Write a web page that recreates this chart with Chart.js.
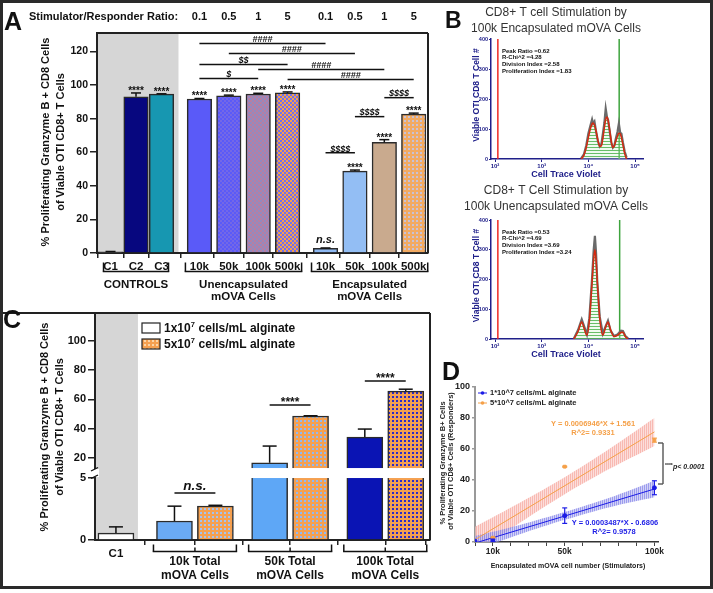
<!DOCTYPE html>
<html>
<head>
<meta charset="utf-8">
<title>OTI CD8+ T cell stimulation by mOVA cells</title>
<script src="https://cdn.jsdelivr.net/npm/chart.js@4.4.1/dist/chart.umd.min.js"></script>
<style>
  html, body { margin: 0; padding: 0; background: #fff; }
  #fig { position: relative; width: 713px; height: 593px; overflow: hidden; background: #fff; }
  #fig canvas { position: absolute; }
  #frame { position: absolute; left: 0; top: 0; width: 707px; height: 583px; border: 3px solid #2a2a2a; pointer-events: none; }
</style>
</head>
<body>
<div id="fig">
  <canvas id="chartA" width="430" height="310" style="left:0;top:0"></canvas>
  <canvas id="chartC" width="432" height="293" style="left:0;top:300px"></canvas>
  <canvas id="chartB1" width="283" height="185" style="left:430px;top:0"></canvas>
  <canvas id="chartB2" width="283" height="183" style="left:430px;top:182px"></canvas>
  <canvas id="chartD" width="283" height="253" style="left:430px;top:340px"></canvas>
  <div id="frame"></div>
</div>
<script>
const FONT = '"Liberation Sans", Arial, Helvetica, sans-serif';
Chart.defaults.font.family = FONT;
Chart.defaults.color = '#111';
Chart.defaults.animation = false;
Chart.defaults.responsive = false;
Chart.defaults.plugins.legend.display = false;
Chart.defaults.plugins.tooltip.enabled = false;

// ---------- Panel A ----------
const A_LABELS = ["C1", "C2", "C3", "10k", "50k", "100k", "500k", "10k", "50k", "100k", "500k"];
const A_GROUPS = [3, 4, 4];
const A_GROUP_NAMES = [["CONTROLS"], ["Unencapsulated", "mOVA Cells"], ["Encapsulated", "mOVA Cells"]];
const A_RATIOS = ["", "", "", "0.1", "0.5", "1", "5", "0.1", "0.5", "1", "5"];
const A_VALUES = [0.7, 93.0, 94.6, 91.7, 93.6, 94.7, 95.4, 2.8, 48.8, 65.9, 82.7];
const A_ERRORS = [0.2, 2.3, 0.2, 0.3, 0.4, 0.4, 0.5, 0.2, 0.6, 1.6, 0.6];
const A_MARKS = ["", "****", "****", "****", "****", "****", "****", "n.s.", "****", "****", "****"];
// [from bar, to bar, label, height of the line in % units]
const A_COMPARE = [
  [3, 7, "####", 124.8],
  [4, 8, "####", 118.8],
  [3, 6, "$$", 112.2],
  [5, 9, "####", 109.3],
  [3, 5, "$", 103.9],
  [6, 10, "####", 103.3],
  [7, 8, "$$$$", 59.7],
  [8, 9, "$$$$", 81.2],
  [9, 10, "$$$$", 92.5]
];
const A_YTICKS = [0, 20, 40, 60, 80, 100, 120];

// ---------- Panel B (flow histograms, Cell Trace Violet) ----------
const B_XTICKS = [100, 1000, 10000, 100000];
const B_XLABELS = ["10²", "10³", "10⁴", "10⁵"];
const B_YTICKS = [0, 100, 200, 300, 400];
const B_TOP_X = [7000, 8000, 9000, 10000, 11000, 12000, 12600, 13500, 14500, 16000, 17500, 19000, 20500, 22000,
  23500, 25000, 26500, 28500, 31000, 33500, 36000, 39000, 42000, 45000, 48000, 51000, 55000, 60000, 66000];
const B_TOP_RAW = [2, 15, 45, 85, 110, 132, 118, 125, 95, 60, 42, 50, 85, 120,
  168, 140, 130, 95, 55, 38, 45, 70, 90, 118, 88, 85, 55, 25, 5];
const B_TOP_FIT = [0, 12, 38, 72, 100, 117, 120, 113, 95, 62, 42, 44, 70, 105,
  132, 140, 128, 98, 58, 38, 44, 62, 76, 86, 84, 72, 48, 18, 0];
const B_TOP_STATS = ["Peak Ratio =0.62", "R-Chi^2 =4.28", "Division Index =2.58", "Proliferation Index =1.83"];
const B_BOT_X = [4900, 6000, 7200, 8300, 9300, 10500, 12000, 13000, 13800, 14600, 15500, 17500, 20400, 23000,
  26300, 30000, 35500, 42000, 50000, 55000, 62000, 71000];
const B_BOT_RAW = [2, 30, 66, 38, 15, 70, 205, 300, 347, 290, 195, 75, 18, 40, 62, 28, 10, 15, 28, 27, 10, 2];
const B_BOT_FIT = [0, 25, 57, 30, 13, 60, 190, 270, 300, 265, 195, 70, 13, 35, 57, 30, 8, 12, 22, 23, 8, 0];
const B_BOT_STATS = ["Peak Ratio =0.53", "R-Chi^2 =4.69", "Division Index =3.69", "Proliferation Index =3.24"];
const B_RED_GATE = 115;
const B_GREEN_GATE = [45700, 46800];

// ---------- Panel C ----------
const C_GROUP_NAMES = [["10k Total", "mOVA Cells"], ["50k Total", "mOVA Cells"], ["100k Total", "mOVA Cells"]];
const C_SERIES = ["1x10", "5x10"];
const C_LOW = [0.56, 1.53, 16.8, 34.3];        // 1x10^7 cells/mL: C1, 10k, 50k, 100k
const C_LOW_ERR = [0.5, 1.2, 11.4, 5.5];
const C_HIGH = [null, 2.74, 48.7, 65.7];       // 5x10^7 cells/mL
const C_HIGH_ERR = [null, 0.06, 0.2, 1.3];
const C_MARKS = ["n.s.", "****", "****"];
const C_MARK_LEVEL = [3.8, 56.2, 72.6];
const C_YTICKS = [0, 5, 20, 40, 60, 80, 100];
const C_BREAK = [5, 13.2];

// ---------- Panel D ----------
const D_LOW_X = [0, 10000, 50000, 100000];
const D_LOW_Y = [0.6, 1.5, 17.0, 35.0];
const D_LOW_ERR = [0, 1.2, 5.0, 4.5];
const D_HIGH_X = [10000, 50000, 100000];
const D_HIGH_Y = [2.8, 48.6, 65.7];
const D_HIGH_ERR = [0.1, 0.3, 1.3];
const D_FIT_X = [0, 100000];
const D_LOW_FIT = [-0.68, 34.19];
const D_HIGH_FIT = [1.56, 71.02];
const D_BAND_X = [0, 25000, 50000, 75000, 100000];
const D_LOW_UP = [3.8, 11.0, 19.3, 28.5, 39.5];
const D_LOW_DN = [-5.2, 5.0, 14.3, 22.5, 28.9];
const D_HIGH_UP = [9.9, 25.4, 41.8, 60.2, 80.0];
const D_HIGH_DN = [-6.7, 12.4, 30.8, 47.2, 62.0];
const D_XLABELS = { 10000: "10k", 50000: "50k", 100000: "100k" };
const D_LEGEND = ["1*10^7 cells/mL alginate", "5*10^7 cells/mL alginate"];

// ---------- helpers ----------
function line(ctx, x1, y1, x2, y2, w = 1.5, c = '#111') {
  ctx.beginPath(); ctx.lineWidth = w; ctx.strokeStyle = c;
  ctx.moveTo(x1, y1); ctx.lineTo(x2, y2); ctx.stroke();
}
function text(ctx, s, x, y, font, c = '#111', align = 'center', base = 'middle') {
  ctx.font = font; ctx.fillStyle = c; ctx.textAlign = align; ctx.textBaseline = base;
  ctx.fillText(s, x, y);
}
function vtext(ctx, s, x, y, font, c = '#111') {
  ctx.save(); ctx.translate(x, y); ctx.rotate(-Math.PI / 2);
  text(ctx, s, 0, 0, font, c); ctx.restore();
}
function errorBar(ctx, x, y0, y1, half, w = 1.5, c = '#111') {
  line(ctx, x, y0, x, y1, w, c); line(ctx, x - half, y1, x + half, y1, w, c);
}
function checker(a, b, s = 2) {
  const cv = document.createElement('canvas'); cv.width = cv.height = 2 * s;
  const g = cv.getContext('2d');
  g.fillStyle = a; g.fillRect(0, 0, 2 * s, 2 * s);
  g.fillStyle = b; g.fillRect(0, 0, s, s); g.fillRect(s, s, s, s);
  return g.createPattern(cv, 'repeat');
}
function dots(bg, fg) {
  const cv = document.createElement('canvas'); cv.width = cv.height = 4;
  const g = cv.getContext('2d');
  g.fillStyle = bg; g.fillRect(0, 0, 4, 4);
  g.fillStyle = fg; g.fillRect(0, 0, 2, 2);
  return g.createPattern(cv, 'repeat');
}
function hatch(bg, fg, vertical, gap = 3) {
  const cv = document.createElement('canvas'); cv.width = cv.height = gap;
  const g = cv.getContext('2d');
  g.fillStyle = bg; g.fillRect(0, 0, gap, gap);
  g.fillStyle = fg;
  if (vertical) g.fillRect(0, 0, 1, gap); else g.fillRect(0, 0, gap, 1);
  return g.createPattern(cv, 'repeat');
}
function groupPositions(sizes, pitch, gap) {
  const pos = []; let x = 0;
  sizes.forEach((n, g) => {
    for (let i = 0; i < n; i++) { pos.push(x); if (i < n - 1) x += pitch[g]; }
    x += gap;
  });
  return pos;
}
const B = 'bold ';

// ================= Panel A =================
const A_POS = groupPositions(A_GROUPS, [0.867, 1, 1], 1.29);
const A_FILLS = [
  '#d2d2d2', '#07077f', '#1797b1',
  '#5a5af8', checker('#5a5af8', '#7468e6'), checker('#b67fa2', '#9389c0'), checker('#f5a04c', '#7070ee'),
  '#8db8f2', '#93bef4', '#c9aa8e', dots('#f2aa62', '#c9c2d6')
];

const panelA = {
  id: 'panelA',
  beforeDraw(chart) {
    const { ctx, chartArea: a, scales: { x } } = chart;
    ctx.fillStyle = '#d6d6d6';
    ctx.fillRect(a.left, a.top, x.getPixelForValue(A_POS[2]) + 17 - a.left, a.bottom - a.top);
  },
  afterDraw(chart) {
    const { ctx, chartArea: a, scales: { x, y } } = chart;
    ctx.save();
    line(ctx, a.left, a.top, a.right, a.top, 2, '#222');
    line(ctx, a.right, a.top, a.right, a.bottom, 2, '#222');

    A_VALUES.forEach((v, i) => {
      const px = x.getPixelForValue(A_POS[i]);
      const top = y.getPixelForValue(v + A_ERRORS[i]);
      errorBar(ctx, px, y.getPixelForValue(v), top, 5);
      if (A_MARKS[i] === 'n.s.') text(ctx, 'n.s.', px, y.getPixelForValue(v) - 5, 'italic bold 11px ' + FONT, '#111', 'center', 'alphabetic');
      else if (A_MARKS[i]) text(ctx, A_MARKS[i], px, top + 1, B + '10px ' + FONT, '#111', 'center', 'alphabetic');
    });

    A_COMPARE.forEach(([i, j, label, h]) => {
      const x1 = x.getPixelForValue(A_POS[i]), x2 = x.getPixelForValue(A_POS[j]);
      const py = y.getPixelForValue(h);
      line(ctx, x1, py, x2, py, 1.5);
      text(ctx, label, (x1 + x2) / 2, py - 1.2, 'italic bold 9px ' + FONT, '#111', 'center', 'alphabetic');
    });

    // group brackets under the axis
    let start = 0;
    A_GROUPS.forEach((n, g) => {
      const pad = g === 0 ? 7 : 14;
      const xl = x.getPixelForValue(A_POS[start]) - pad;
      const xr = x.getPixelForValue(A_POS[start + n - 1]) + pad;
      const yb = a.bottom + 18.5;
      line(ctx, xl, yb - 9, xl, yb, 1.5); line(ctx, xr, yb - 9, xr, yb, 1.5);
      line(ctx, xl - 0.75, yb, xr + 0.75, yb, 1.5);
      A_GROUP_NAMES[g].forEach((s, k) => text(ctx, s, (xl + xr) / 2, a.bottom + 32 + k * 12, B + '11.5px ' + FONT));
      start += n;
    });

    // ratio header
    text(ctx, 'Stimulator/Responder Ratio:', 29, 17, B + '11px ' + FONT, '#111', 'left');
    A_RATIOS.forEach((r, i) => { if (r) text(ctx, r, x.getPixelForValue(A_POS[i]), 17, B + '11px ' + FONT); });

    vtext(ctx, '% Proliferating Granzyme B + CD8 Cells', 46, 142, B + '11px ' + FONT);
    vtext(ctx, 'of Viable OTI CD8+ T Cells', 61, 142, B + '11px ' + FONT);
    text(ctx, 'A', 4, 30, B + '25px ' + FONT, '#111', 'left', 'alphabetic');
    ctx.restore();
  }
};

new Chart(document.getElementById('chartA'), {
  type: 'bar',
  data: {
    datasets: [{
      data: A_VALUES.map((v, i) => ({ x: A_POS[i], y: v })),
      backgroundColor: A_FILLS, borderColor: '#2b2b2b', borderWidth: 1.5,
      barThickness: 24.5, grouped: false
    }]
  },
  options: {
    layout: { padding: { left: 0, top: 33, right: 2, bottom: 0 } },
    scales: {
      x: {
        type: 'linear', min: -0.46, max: 10.8, offset: false,
        afterFit: s => { s.height = 57; },
        afterBuildTicks: s => { s.ticks = A_POS.map(v => ({ value: v })); },
        ticks: { callback: (v, i) => A_LABELS[i], font: { size: 11.5, weight: 'bold' }, color: '#111', padding: 2, autoSkip: false, maxRotation: 0 },
        grid: { display: true, drawOnChartArea: false, drawTicks: true, tickLength: 5, color: '#222', lineWidth: 1.5 },
        border: { display: true, color: '#222', width: 2 }
      },
      y: {
        min: 0, max: 131,
        afterFit: s => { s.width = 97; },
        afterBuildTicks: s => { s.ticks = A_YTICKS.map(v => ({ value: v })); },
        ticks: { font: { size: 10.5, weight: 'bold' }, color: '#111', padding: 2 },
        grid: { display: true, drawOnChartArea: false, drawTicks: true, tickLength: 7, color: '#222', lineWidth: 1.5 },
        border: { display: true, color: '#222', width: 2 }
      }
    }
  },
  plugins: [panelA]
});

// ================= Panel B =================
const NAVY = '#20208a';
const GREEN_HATCH = hatch('rgba(205,240,205,0.3)', 'rgba(80,180,80,0.85)', false, 3);

function histPlugin(opts) {
  return {
    id: 'hist',
    beforeDatasetsDraw(chart) {
      const { ctx, chartArea: a, scales: { x } } = chart;
      const r = x.getPixelForValue(B_RED_GATE), g = x.getPixelForValue(opts.green);
      line(ctx, r, a.top, r, a.bottom, 1.5, '#ee2a22');
      line(ctx, g, a.top, g, a.bottom, 1.5, '#3ea43e');
    },
    afterDraw(chart) {
      const { ctx, chartArea: a } = chart;
      ctx.save();
      opts.title.forEach((s, k) => text(ctx, s, 126, opts.titleY + k * 15.5, '12px ' + FONT, '#333'));
      opts.stats.forEach((s, k) => text(ctx, s, 72, a.top + 12 + k * 6.7, B + '6px ' + FONT, '#111', 'left'));
      vtext(ctx, 'Viable OTI CD8 T Cell #', 47, (a.top + a.bottom) / 2 - 4, B + '8.5px ' + FONT, NAVY);
      text(ctx, 'Cell Trace Violet', 136, a.bottom + 16, B + '9px ' + FONT, NAVY);
      if (opts.letter) text(ctx, opts.letter, 15, 28, B + '23px ' + FONT, '#111', 'left', 'alphabetic');
      ctx.restore();
    }
  };
}

function histogram(id, xs, raw, fit, opts) {
  return new Chart(document.getElementById(id), {
    type: 'line',
    data: {
      datasets: [
        { data: xs.map((x, i) => ({ x, y: fit[i] })), borderColor: '#d42a10', borderWidth: 1.5, pointRadius: 0, cubicInterpolationMode: 'monotone', fill: false },
        { data: xs.map((x, i) => ({ x, y: raw[i] })), borderColor: '#6a6a6a', borderWidth: 2.2, pointRadius: 0, fill: false },
        { data: xs.map((x, i) => ({ x, y: fit[i] })), borderWidth: 0, pointRadius: 0, cubicInterpolationMode: 'monotone', fill: 'origin', backgroundColor: GREEN_HATCH }
      ]
    },
    options: {
      layout: { padding: { left: 0, top: opts.top, right: 70, bottom: 0 } },
      scales: {
        x: {
          type: 'logarithmic', min: 82, max: 148000,
          afterFit: s => { s.height = 26; },
          afterBuildTicks: s => { s.ticks = B_XTICKS.map(v => ({ value: v })); },
          ticks: { callback: (v, i) => B_XLABELS[i], font: { size: 6, weight: 'bold' }, color: NAVY, padding: 1, autoSkip: false, maxRotation: 0 },
          grid: { display: true, drawOnChartArea: false, drawTicks: true, tickLength: 3, color: NAVY, lineWidth: 1 },
          border: { display: true, color: NAVY, width: 1.5 }
        },
        y: {
          min: 0, max: 400,
          afterFit: s => { s.width = 61; },
          afterBuildTicks: s => { s.ticks = B_YTICKS.map(v => ({ value: v })); },
          ticks: { font: { size: 5.5, weight: 'bold' }, color: NAVY, padding: 1 },
          grid: { display: true, drawOnChartArea: false, drawTicks: true, tickLength: 2, color: NAVY, lineWidth: 1 },
          border: { display: true, color: NAVY, width: 1.5 }
        }
      }
    },
    plugins: [histPlugin(opts)]
  });
}

histogram('chartB1', B_TOP_X, B_TOP_RAW, B_TOP_FIT, {
  top: 39, titleY: 13, green: B_GREEN_GATE[0], letter: 'B', stats: B_TOP_STATS,
  title: ['CD8+ T cell Stimulation by', '100k Encapsulated mOVA Cells']
});
histogram('chartB2', B_BOT_X, B_BOT_RAW, B_BOT_FIT, {
  top: 38, titleY: 9, green: B_GREEN_GATE[1], letter: '', stats: B_BOT_STATS,
  title: ['CD8+ T Cell Stimulation by', '100k Unencapsulated mOVA Cells']
});

// ================= Panel C (broken y axis) =================
class BrokenScale extends Chart.LinearScale {
  _seg() {
    const h = this.bottom - this.top;
    return { h, low: h * 0.273, gap: h * 0.044 };
  }
  getPixelForValue(v) {
    const { h, low, gap } = this._seg();
    const [b0, b1] = C_BREAK;
    if (v <= b0) return this.bottom - v / b0 * low;
    if (v <= b1) return this.bottom - low - (v - b0) / (b1 - b0) * gap;
    return this.bottom - low - gap - (v - b1) / (this.max - b1) * (h - low - gap);
  }
  getValueForPixel(p) {
    const { h, low, gap } = this._seg();
    const [b0, b1] = C_BREAK;
    const d = this.bottom - p;
    if (d <= low) return d / low * b0;
    if (d <= low + gap) return b0 + (d - low) / gap * (b1 - b0);
    return b1 + (d - low - gap) / (h - low - gap) * (this.max - b1);
  }
}
BrokenScale.id = 'broken';
BrokenScale.defaults = Chart.LinearScale.defaults;
Chart.register(BrokenScale);

const C_C1_SLOT = 0.17, C_PAIR_OFFSET = 0.215;
const C_LOW_POS = [C_C1_SLOT, 1 - C_PAIR_OFFSET, 2 - C_PAIR_OFFSET, 3 - C_PAIR_OFFSET];
const C_HIGH_POS = [null, 1 + C_PAIR_OFFSET, 2 + C_PAIR_OFFSET, 3 + C_PAIR_OFFSET];
const C_LOW_FILLS = ['#ffffff', '#6aaaf5', '#5ea7f6', '#0a14b4'];
const C_HIGH_FILLS = [null, dots('#f5a050', '#a5c3f0'), dots('#f5a050', '#92b9f2'), dots('#f5a050', '#2a2ac8')];
const C_LEGEND_FILLS = ['#ffffff', dots('#f5a050', '#fbd5a8')];

const panelC = {
  id: 'panelC',
  beforeDraw(chart) {
    const { ctx, chartArea: a, scales: { x } } = chart;
    ctx.fillStyle = '#d6d6d6';
    ctx.fillRect(a.left, a.top, x.getPixelForValue(C_C1_SLOT) + 22 - a.left, a.bottom - a.top);
  },
  afterDatasetsDraw(chart) {
    const { ctx, scales: { y } } = chart;
    const g1 = y.getPixelForValue(C_BREAK[1]), g0 = y.getPixelForValue(C_BREAK[0]);
    ctx.fillStyle = '#fff';
    chart.data.datasets.forEach((ds, di) => chart.getDatasetMeta(di).data.forEach(bar => {
      if (bar && isFinite(bar.y) && bar.y < g1) ctx.fillRect(bar.x - bar.width / 2 - 1, g1, bar.width + 2, g0 - g1);
    }));
  },
  afterDraw(chart) {
    const { ctx, chartArea: a, scales: { x, y } } = chart;
    ctx.save();
    line(ctx, 0, a.top, a.right, a.top, 2, '#222');
    line(ctx, a.right, a.top, a.right, a.bottom, 2, '#222');

    // axis break marks
    const g1 = y.getPixelForValue(C_BREAK[1]), g0 = y.getPixelForValue(C_BREAK[0]);
    ctx.fillStyle = '#fff';
    ctx.fillRect(a.left - 4, g1 + 1, 8, g0 - g1 - 2);
    line(ctx, a.left - 4, g1 + 3, a.left + 3, g1 - 0.5, 1.3);
    line(ctx, a.left - 4, g0 + 0.5, a.left + 3, g0 - 3, 1.3);

    const bars = (vals, errs, pos) => vals.forEach((v, i) => {
      if (v === null) return;
      const px = x.getPixelForValue(pos[i]);
      errorBar(ctx, px, y.getPixelForValue(v), y.getPixelForValue(v + errs[i]), 7);
    });
    bars(C_LOW, C_LOW_ERR, C_LOW_POS);
    bars(C_HIGH, C_HIGH_ERR, C_HIGH_POS);

    C_MARKS.forEach((m, g) => {
      const x1 = x.getPixelForValue(C_LOW_POS[g + 1]), x2 = x.getPixelForValue(C_HIGH_POS[g + 1]);
      const py = y.getPixelForValue(C_MARK_LEVEL[g]);
      line(ctx, x1, py, x2, py, 1.5);
      if (m === 'n.s.') text(ctx, m, (x1 + x2) / 2, py - 3, 'italic bold 13.5px ' + FONT, '#111', 'center', 'alphabetic');
      else text(ctx, m, (x1 + x2) / 2, py + 1, B + '12px ' + FONT, '#111', 'center', 'alphabetic');
    });

    // group brackets
    C_GROUP_NAMES.forEach((names, g) => {
      const xl = x.getPixelForValue(C_LOW_POS[g + 1]) - 21, xr = x.getPixelForValue(C_HIGH_POS[g + 1]) + 21;
      const yb = a.bottom + 11.5, xc = (xl + xr) / 2;
      line(ctx, xl, yb - 7, xl, yb, 1.5); line(ctx, xr, yb - 7, xr, yb, 1.5);
      line(ctx, xl - 0.75, yb, xr + 0.75, yb, 1.5); line(ctx, xc, yb, xc, yb - 4, 1.5);
      names.forEach((s, k) => text(ctx, s, xc, a.bottom + 22 + k * 14, B + '12px ' + FONT));
    });

    // legend
    C_SERIES.forEach((s, k) => {
      const ly = 23 + k * 16;
      ctx.fillStyle = C_LEGEND_FILLS[k]; ctx.fillRect(142, ly, 18, 10);
      ctx.lineWidth = 1.2; ctx.strokeStyle = '#222'; ctx.strokeRect(142, ly, 18, 10);
      text(ctx, s, 164, ly + 5.5, B + '12px ' + FONT, '#111', 'left');
      const w = ctx.measureText(s).width;
      text(ctx, '7', 164 + w, ly + 1.5, B + '7.5px ' + FONT, '#111', 'left');
      text(ctx, ' cells/mL alginate', 164 + w + 4.5, ly + 5.5, B + '12px ' + FONT, '#111', 'left');
    });

    vtext(ctx, '% Proliferating Granzyme B + CD8 Cells', 45, 127, B + '11px ' + FONT);
    vtext(ctx, 'of Viable OTI CD8+ T Cells', 60, 127, B + '11px ' + FONT);
    text(ctx, 'C', 3, 28, B + '25px ' + FONT, '#111', 'left', 'alphabetic');
    ctx.restore();
  }
};

new Chart(document.getElementById('chartC'), {
  type: 'bar',
  data: {
    datasets: [
      { label: '1x10^7 cells/mL alginate', data: C_LOW.map((v, i) => ({ x: C_LOW_POS[i], y: v })),
        backgroundColor: C_LOW_FILLS, borderColor: '#2b2b2b', borderWidth: 1.5, barThickness: 36, grouped: false },
      { label: '5x10^7 cells/mL alginate', data: C_HIGH.map((v, i) => ({ x: C_HIGH_POS[i], y: v })).filter(p => p.y !== null),
        backgroundColor: C_HIGH_FILLS.slice(1), borderColor: '#2b2b2b', borderWidth: 1.5, barThickness: 36, grouped: false }
    ]
  },
  options: {
    layout: { padding: { left: 0, top: 13, right: 2, bottom: 0 } },
    scales: {
      x: {
        type: 'linear', min: -0.05, max: 3.47, offset: false,
        afterFit: s => { s.height = 53; },
        afterBuildTicks: s => {
          s.ticks = [C_LOW_POS[0], ...C_LOW_POS.slice(1).flatMap((p, i) => [p, C_HIGH_POS[i + 1]])].map(v => ({ value: v }));
        },
        ticks: { callback: (v, i) => (i === 0 ? 'C1' : ''), font: { size: 11.5, weight: 'bold' }, color: '#111', padding: 2, autoSkip: false, maxRotation: 0 },
        grid: { display: true, drawOnChartArea: false, drawTicks: true, tickLength: 5, color: '#222', lineWidth: 1.5 },
        border: { display: true, color: '#222', width: 2 }
      },
      y: {
        type: 'broken', min: 0, max: 119,
        afterFit: s => { s.width = 95; },
        afterBuildTicks: s => { s.ticks = C_YTICKS.map(v => ({ value: v })); },
        ticks: { font: { size: 11, weight: 'bold' }, color: '#111', padding: 2 },
        grid: { display: true, drawOnChartArea: false, drawTicks: true, tickLength: 7, color: '#222', lineWidth: 1.5 },
        border: { display: true, color: '#222', width: 2 }
      }
    }
  },
  plugins: [panelC]
});

// ================= Panel D =================
const D_BLUE = '#1c1ce6', D_ORANGE = '#f5a048';
const panelD = {
  id: 'panelD',
  afterDraw(chart) {
    const { ctx, scales: { x, y } } = chart;
    ctx.save();
    const bars = (xs, ys, es, c) => xs.forEach((xv, i) => {
      if (!es[i]) return;
      const px = x.getPixelForValue(xv);
      const hi = y.getPixelForValue(ys[i] + es[i]), lo = y.getPixelForValue(ys[i] - es[i]);
      line(ctx, px, lo, px, hi, 1.2, c);
      line(ctx, px - 2.5, hi, px + 2.5, hi, 1.2, c);
      line(ctx, px - 2.5, lo, px + 2.5, lo, 1.2, c);
    });
    bars(D_LOW_X, D_LOW_Y, D_LOW_ERR, D_BLUE);
    bars(D_HIGH_X, D_HIGH_Y, D_HIGH_ERR, D_ORANGE);

    // legend
    [D_BLUE, D_ORANGE].forEach((c, k) => {
      const ly = 53 + k * 10;
      line(ctx, 48, ly, 57, ly, 1, c);
      ctx.beginPath(); ctx.fillStyle = c; ctx.arc(52.5, ly, 1.8, 0, Math.PI * 2); ctx.fill();
      text(ctx, D_LEGEND[k], 60, ly, B + '7.5px ' + FONT, '#222', 'left');
    });

    text(ctx, 'Y = 0.0006946*X + 1.561', 163, 84, B + '7.5px ' + FONT, D_ORANGE);
    text(ctx, 'R^2= 0.9331', 163, 92.5, B + '7.5px ' + FONT, D_ORANGE);
    text(ctx, 'Y = 0.0003487*X - 0.6806', 185, 183, B + '7.5px ' + FONT, D_BLUE);
    text(ctx, 'R^2= 0.9578', 184, 192, B + '7.5px ' + FONT, D_BLUE);

    // significance bracket between the two fits
    line(ctx, 233, 103, 233, 144, 1.4, '#555');
    line(ctx, 228, 103, 233, 103, 1.4, '#555');
    line(ctx, 228, 144, 233, 144, 1.4, '#555');
    text(ctx, '****', 235, 126, B + '5px ' + FONT, '#222', 'left');
    text(ctx, 'p< 0.0001', 243, 127, 'italic bold 7px ' + FONT, '#222', 'left');

    text(ctx, 'Encapsulated mOVA cell number (Stimulators)', 138, 226, B + '7px ' + FONT, '#222');
    vtext(ctx, '% Proliferating Granzyme B+ Cells', 13, 123, B + '7.5px ' + FONT, '#222');
    vtext(ctx, 'of Viable OTI CD8+ Cells (Responders)', 21, 121, B + '7.5px ' + FONT, '#222');
    text(ctx, 'D', 12, 40, B + '25px ' + FONT, '#111', 'left', 'alphabetic');
    ctx.restore();
  }
};

const pts = (xs, ys) => xs.map((x, i) => ({ x, y: ys[i] }));
new Chart(document.getElementById('chartD'), {
  type: 'scatter',
  data: {
    datasets: [
      { data: pts(D_LOW_X, D_LOW_Y), pointRadius: 2, backgroundColor: D_BLUE, borderColor: D_BLUE },
      { data: pts(D_HIGH_X, D_HIGH_Y), pointRadius: 2, pointStyle: 'rect', backgroundColor: D_ORANGE, borderColor: D_ORANGE },
      { data: pts(D_FIT_X, D_LOW_FIT), showLine: true, pointRadius: 0, borderColor: D_BLUE, borderWidth: 1 },
      { data: pts(D_FIT_X, D_HIGH_FIT), showLine: true, pointRadius: 0, borderColor: D_ORANGE, borderWidth: 1 },
      { data: pts(D_BAND_X, D_LOW_UP), showLine: true, pointRadius: 0, borderWidth: 0, tension: 0.3, fill: 5,
        backgroundColor: hatch('rgba(175,175,240,0.55)', 'rgba(120,120,230,0.6)', true, 2) },
      { data: pts(D_BAND_X, D_LOW_DN), showLine: true, pointRadius: 0, borderWidth: 0, tension: 0.3 },
      { data: pts(D_BAND_X, D_HIGH_UP), showLine: true, pointRadius: 0, borderWidth: 0, tension: 0.3, fill: 7,
        backgroundColor: hatch('rgba(250,200,195,0.6)', 'rgba(245,160,150,0.6)', true, 2) },
      { data: pts(D_BAND_X, D_HIGH_DN), showLine: true, pointRadius: 0, borderWidth: 0, tension: 0.3 }
    ]
  },
  options: {
    layout: { padding: { left: 0, top: 47, right: 55, bottom: 0 } },
    scales: {
      x: {
        type: 'linear', min: 0, max: 102000,
        afterFit: s => { s.height = 51; },
        afterBuildTicks: s => { s.ticks = Array.from({ length: 11 }, (_, i) => ({ value: i * 10000 })); },
        ticks: { callback: v => D_XLABELS[v] || '', font: { size: 8.5, weight: 'bold' }, color: '#222', padding: 1, autoSkip: false, maxRotation: 0 },
        grid: { display: true, drawOnChartArea: false, drawTicks: true, tickLength: 4, color: '#444', lineWidth: 1 },
        border: { display: true, color: '#333', width: 1.5 }
      },
      y: {
        min: 0, max: 100,
        afterFit: s => { s.width = 45; },
        ticks: { stepSize: 20, font: { size: 9, weight: 'bold' }, color: '#222', padding: 2 },
        grid: { display: true, drawOnChartArea: false, drawTicks: true, tickLength: 3, color: '#999', lineWidth: 1.5 },
        border: { display: true, color: '#999', width: 2 }
      }
    }
  },
  plugins: [panelD]
});
</script>
</body>
</html>
